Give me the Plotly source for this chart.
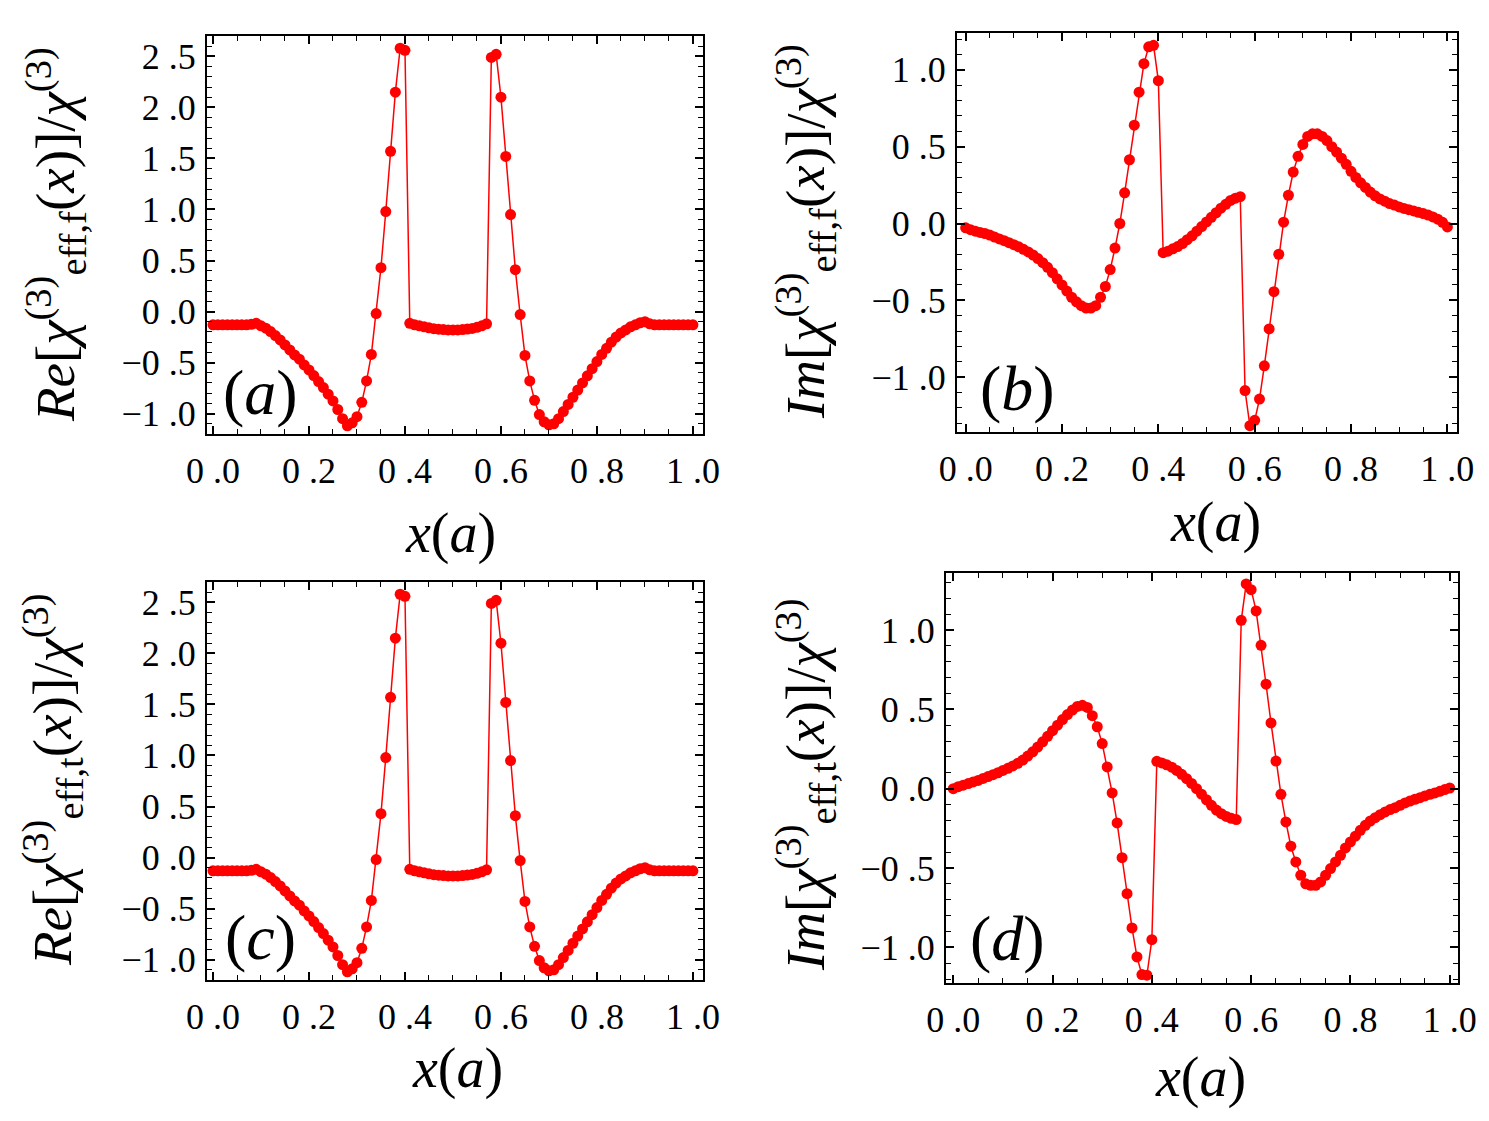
import plotly.graph_objects as go

# ---------------- data ----------------
x_vals = [0.00, 0.01, 0.02, 0.03, 0.04, 0.05, 0.06, 0.07, 0.08, 0.09,
          0.10, 0.11, 0.12, 0.13, 0.14, 0.15, 0.16, 0.17, 0.18, 0.19,
          0.20, 0.21, 0.22, 0.23, 0.24, 0.25, 0.26, 0.27, 0.28, 0.29,
          0.30, 0.31, 0.32, 0.33, 0.34, 0.35, 0.36, 0.37, 0.38, 0.39,
          0.40, 0.41, 0.42, 0.43, 0.44, 0.45, 0.46, 0.47, 0.48, 0.49,
          0.50, 0.51, 0.52, 0.53, 0.54, 0.55, 0.56, 0.57, 0.58, 0.59,
          0.60, 0.61, 0.62, 0.63, 0.64, 0.65, 0.66, 0.67, 0.68, 0.69,
          0.70, 0.71, 0.72, 0.73, 0.74, 0.75, 0.76, 0.77, 0.78, 0.79,
          0.80, 0.81, 0.82, 0.83, 0.84, 0.85, 0.86, 0.87, 0.88, 0.89,
          0.90, 0.91, 0.92, 0.93, 0.94, 0.95, 0.96, 0.97, 0.98, 0.99,
          1.00]

# (a) Re[chi_eff,f]/chi
re_f = [-0.13, -0.13, -0.13, -0.13, -0.13, -0.13, -0.13, -0.13, -0.125, -0.115,
        -0.14, -0.163, -0.196, -0.235, -0.278, -0.327, -0.376, -0.425, -0.467, -0.523,
        -0.572, -0.627, -0.686, -0.745, -0.81, -0.876, -0.96, -1.05, -1.12, -1.09,
        -1.03, -0.89, -0.68, -0.42, -0.02, 0.43, 0.98, 1.57, 2.15, 2.58,
        2.56, -0.115, -0.13, -0.14, -0.15, -0.16, -0.168, -0.173, -0.177, -0.18,
        -0.18, -0.18, -0.177, -0.172, -0.165, -0.155, -0.14, -0.12, 2.49, 2.52,
        2.10, 1.52, 0.95, 0.41, -0.03, -0.43, -0.68, -0.87, -1.01, -1.08,
        -1.11, -1.10, -1.05, -0.98, -0.91, -0.84, -0.77, -0.70, -0.63, -0.56,
        -0.49, -0.42, -0.36, -0.30, -0.25, -0.21, -0.18, -0.15, -0.13, -0.11,
        -0.10, -0.12, -0.13, -0.13, -0.13, -0.13, -0.13, -0.13, -0.13, -0.13,
        -0.13]

# (b) Im[chi_eff,f]/chi
im_f = [-0.028, -0.04, -0.05, -0.058, -0.065, -0.075, -0.088, -0.10, -0.112, -0.125,
        -0.138, -0.152, -0.168, -0.185, -0.205, -0.228, -0.255, -0.285, -0.32, -0.36,
        -0.40, -0.44, -0.48, -0.51, -0.535, -0.55, -0.55, -0.535, -0.48, -0.41,
        -0.30, -0.16, 0.00, 0.20, 0.415, 0.64, 0.855, 1.04, 1.15, 1.16,
        0.93, -0.19, -0.18, -0.165, -0.15, -0.13, -0.105, -0.08, -0.05, -0.02,
        0.01, 0.04, 0.07, 0.10, 0.125, 0.15, 0.165, 0.175, -1.087, -1.316,
        -1.281, -1.143, -0.926, -0.686, -0.444, -0.20, 0.009, 0.184, 0.335, 0.437,
        0.515, 0.567, 0.584, 0.584, 0.567, 0.54, 0.50, 0.465, 0.425, 0.385,
        0.34, 0.30, 0.265, 0.235, 0.205, 0.18, 0.16, 0.145, 0.13, 0.12,
        0.108, 0.098, 0.09, 0.082, 0.073, 0.065, 0.055, 0.043, 0.028, 0.008,
        -0.022]

# (c) Re[chi_eff,t]/chi
re_t = [-0.13, -0.13, -0.13, -0.13, -0.13, -0.13, -0.13, -0.13, -0.125, -0.115,
        -0.14, -0.163, -0.196, -0.235, -0.278, -0.327, -0.376, -0.425, -0.467, -0.523,
        -0.572, -0.627, -0.686, -0.745, -0.81, -0.876, -0.96, -1.05, -1.12, -1.09,
        -1.03, -0.89, -0.68, -0.42, -0.02, 0.43, 0.98, 1.57, 2.15, 2.58,
        2.56, -0.115, -0.13, -0.14, -0.15, -0.16, -0.168, -0.173, -0.177, -0.18,
        -0.18, -0.18, -0.177, -0.172, -0.165, -0.155, -0.14, -0.12, 2.49, 2.52,
        2.10, 1.52, 0.95, 0.41, -0.03, -0.43, -0.68, -0.87, -1.01, -1.08,
        -1.11, -1.10, -1.05, -0.98, -0.91, -0.84, -0.77, -0.70, -0.63, -0.56,
        -0.49, -0.42, -0.36, -0.30, -0.25, -0.21, -0.18, -0.15, -0.13, -0.11,
        -0.10, -0.12, -0.13, -0.13, -0.13, -0.13, -0.13, -0.13, -0.13, -0.13,
        -0.13]

# (d) Im[chi_eff,t]/chi
im_t = [0.0, 0.012, 0.022, 0.032, 0.042, 0.052, 0.064, 0.076, 0.088, 0.10,
        0.115, 0.128, 0.143, 0.16, 0.18, 0.205, 0.232, 0.262, 0.295, 0.33,
        0.365, 0.40, 0.435, 0.467, 0.495, 0.518, 0.525, 0.512, 0.46, 0.39,
        0.284, 0.137, -0.027, -0.216, -0.435, -0.662, -0.878, -1.061, -1.172, -1.176,
        -0.952, 0.172, 0.162, 0.15, 0.135, 0.115, 0.09, 0.063, 0.033, 0.0,
        -0.035, -0.07, -0.105, -0.135, -0.158, -0.175, -0.187, -0.195, 1.061, 1.29,
        1.254, 1.12, 0.903, 0.658, 0.414, 0.174, -0.036, -0.21, -0.363, -0.462,
        -0.546, -0.60, -0.609, -0.609, -0.588, -0.546, -0.504, -0.462, -0.42, -0.374,
        -0.336, -0.30, -0.263, -0.231, -0.204, -0.183, -0.164, -0.147, -0.132, -0.12,
        -0.105, -0.09, -0.078, -0.067, -0.057, -0.046, -0.036, -0.027, -0.017, -0.006,
        0.004]

x_tickvals = [0.0, 0.2, 0.4, 0.6, 0.8, 1.0]
x_ticktext = ["0 .0", "0 .2", "0 .4", "0 .6", "0 .8", "1 .0"]
re_tickvals = [-1.0, -0.5, 0.0, 0.5, 1.0, 1.5, 2.0, 2.5]
re_ticktext = ["\u22121 .0", "\u22120 .5", "0 .0", "0 .5",
               "1 .0", "1 .5", "2 .0", "2 .5"]
im_tickvals = [-1.0, -0.5, 0.0, 0.5, 1.0]
im_ticktext = ["\u22121 .0", "\u22120 .5", "0 .0", "0 .5", "1 .0"]

panel_labels = ["(<i>a</i>)", "(<i>b</i>)", "(<i>c</i>)", "(<i>d</i>)"]
y_titles = [
    "<i>Re</i>[<i>χ</i><sup>(3)</sup><sub>eff,f</sub>(<i>x</i>)]/<i>χ</i><sup>(3)</sup>",
    "<i>Im</i>[<i>χ</i><sup>(3)</sup><sub>eff,f</sub>(<i>x</i>)]/<i>χ</i><sup>(3)</sup>",
    "<i>Re</i>[<i>χ</i><sup>(3)</sup><sub>eff,t</sub>(<i>x</i>)]/<i>χ</i><sup>(3)</sup>",
    "<i>Im</i>[<i>χ</i><sup>(3)</sup><sub>eff,t</sub>(<i>x</i>)]/<i>χ</i><sup>(3)</sup>",
]
x_title = "<i>x</i>(<i>a</i>)"

# ---------------- layout geometry (pixels) ----------------
W, H = 1489, 1121
FONT = "Liberation Serif, Times New Roman, serif"
RED = "#ff0000"

panels = [
    dict(box=(207, 703, 36, 434), xr=[-0.0125, 1.021], yr=[-1.2, 2.70],
         yt=(re_tickvals, re_ticktext), ydata=re_f,
         lab=(260, 393), ytit=(55, 235), xtit=(450, 533)),
    dict(box=(957, 1457, 33, 432), xr=[-0.018, 1.02], yr=[-1.357, 1.24],
         yt=(im_tickvals, im_ticktext), ydata=im_f,
         lab=(1017, 388), ytit=(805, 232), xtit=(1215, 522)),
    dict(box=(207, 703, 582, 980), xr=[-0.0125, 1.021], yr=[-1.2, 2.70],
         yt=(re_tickvals, re_ticktext), ydata=re_t,
         lab=(260, 937), ytit=(52, 780), xtit=(457, 1068)),
    dict(box=(946, 1458, 573, 983), xr=[-0.0147, 1.0167], yr=[-1.225, 1.359],
         yt=(im_tickvals, im_ticktext), ydata=im_t,
         lab=(1007, 938), ytit=(805, 785), xtit=(1200, 1077)),
]

fig = go.Figure()
annotations = []

for i, p in enumerate(panels):
    n = "" if i == 0 else str(i + 1)
    x0, x1, yt0, yb1 = p["box"]
    xdom = [x0 / W, x1 / W]
    ydom = [1 - yb1 / H, 1 - yt0 / H]
    fig.add_trace(go.Scatter(
        x=x_vals, y=p["ydata"], mode="lines+markers",
        line=dict(color=RED, width=1.5),
        marker=dict(color=RED, size=11, line=dict(width=0)),
        xaxis="x" + n, yaxis="y" + n, showlegend=False,
        hoverinfo="skip"))
    common = dict(showline=True, linecolor="black", linewidth=2, mirror="allticks",
                  ticks="inside", tickcolor="black", tickwidth=1.5, ticklen=8,
                  showgrid=False, zeroline=False, tickmode="array",
                  automargin=False,
                  tickfont=dict(family=FONT, size=36, color="black"))
    fig.update_layout(**{
        "xaxis" + n: dict(domain=xdom, range=p["xr"], anchor="y" + n,
                          tickvals=x_tickvals, ticktext=x_ticktext,
                          ticklabelstandoff=4,
                          minor=dict(tickmode="linear", tick0=0, dtick=0.05,
                                     ticks="inside", ticklen=5, tickwidth=1.2,
                                     tickcolor="black", showgrid=False),
                          **common),
        "yaxis" + n: dict(domain=ydom, range=p["yr"], anchor="x" + n,
                          tickvals=p["yt"][0], ticktext=p["yt"][1],
                          ticklabelstandoff=2,
                          minor=dict(tickmode="linear", tick0=0, dtick=0.1,
                                     ticks="inside", ticklen=5, tickwidth=1.2,
                                     tickcolor="black", showgrid=False),
                          **common),
    })
    lx, ly = p["lab"]
    annotations.append(dict(text=panel_labels[i], x=lx / W, y=1 - ly / H,
                            xref="paper", yref="paper", showarrow=False,
                            xanchor="center", yanchor="middle",
                            font=dict(family=FONT, size=64, color="black")))
    tx, ty = p["ytit"]
    annotations.append(dict(text=y_titles[i], x=tx / W, y=1 - ty / H,
                            xref="paper", yref="paper", showarrow=False,
                            textangle=-90, xanchor="center", yanchor="middle",
                            font=dict(family=FONT, size=55, color="black")))
    qx, qy = p["xtit"]
    annotations.append(dict(text=x_title, x=qx / W, y=1 - qy / H,
                            xref="paper", yref="paper", showarrow=False,
                            xanchor="center", yanchor="middle",
                            font=dict(family=FONT, size=56, color="black")))

fig.update_layout(template="none", width=W, height=H,
                  margin=dict(l=0, r=0, t=0, b=0),
                  paper_bgcolor="white", plot_bgcolor="white",
                  annotations=annotations)

fig.write_html("out.html")
